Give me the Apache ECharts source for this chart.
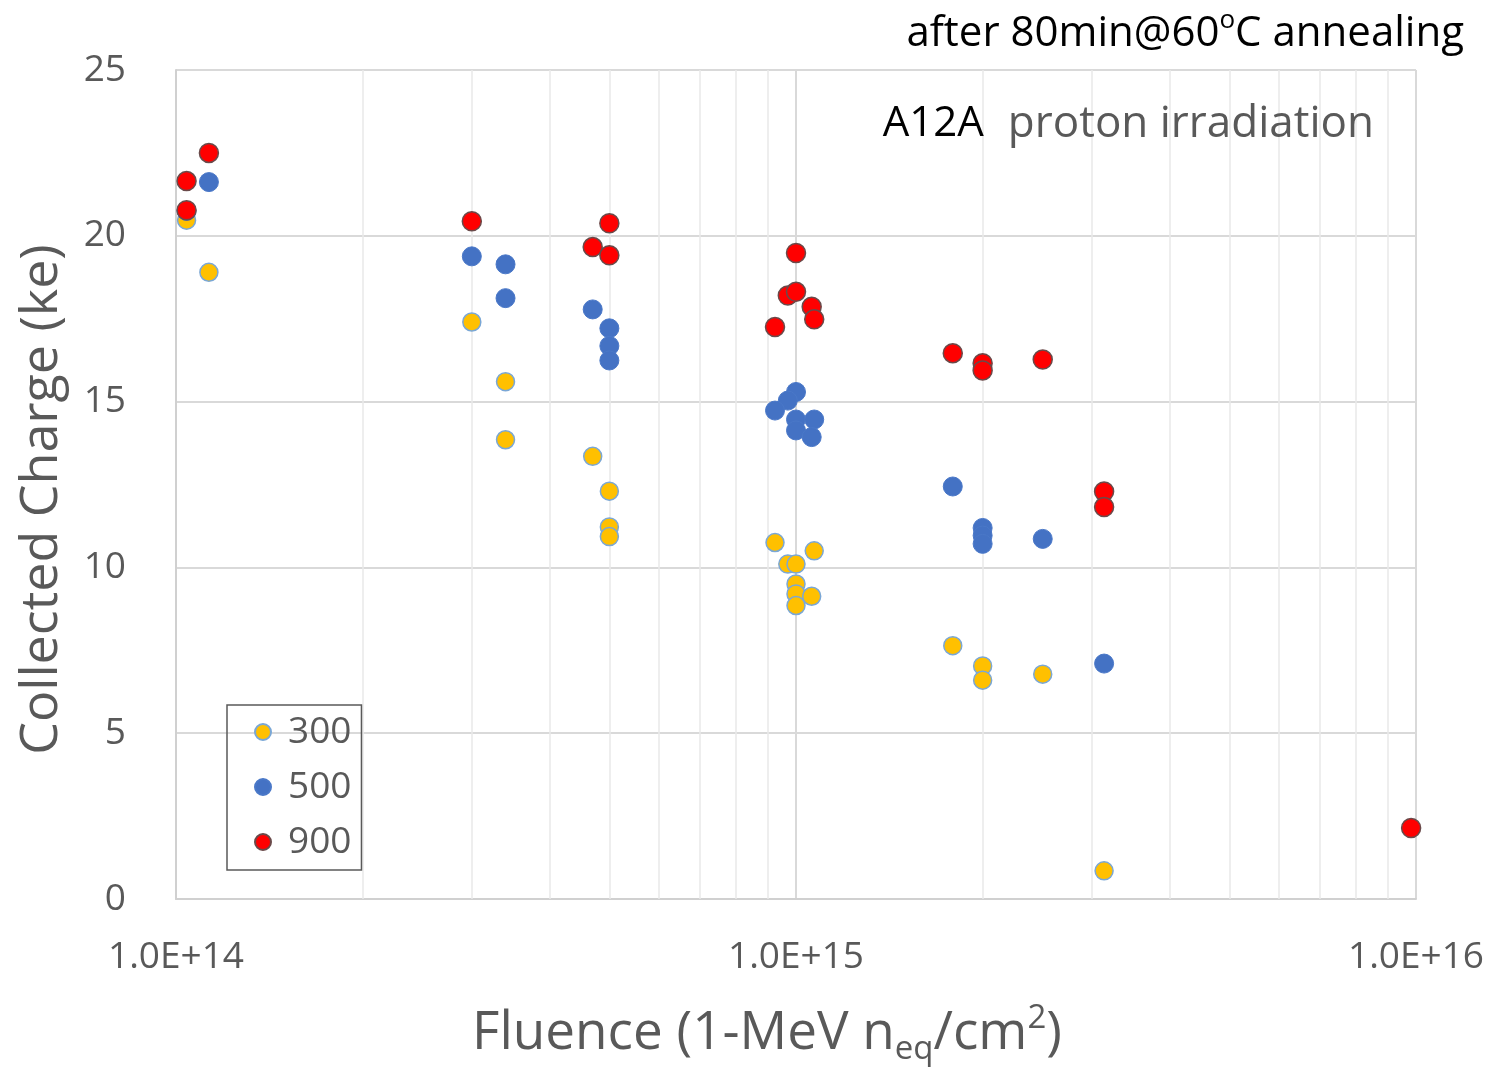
<!DOCTYPE html>
<html>
<head>
<meta charset="utf-8">
<title>Collected charge vs fluence</title>
<script src="https://cdn.jsdelivr.net/npm/echarts@6/dist/echarts.min.js"></script>
<style>
  html, body { margin: 0; padding: 0; background: #ffffff; }
  #chart { width: 1491px; height: 1071px; }
</style>
</head>
<body>
<div id="chart"></div>
<script>
// Fluence (1-MeV neq/cm2) and collected charge (ke) for each bias voltage
const series300 = [
  [1.04e14, 20.47], [1.13e14, 18.9], [3.0e14, 17.4], [3.4e14, 15.6], [3.4e14, 13.85],
  [4.7e14, 13.35], [5.0e14, 12.3], [5.0e14, 11.22], [5.0e14, 10.93], [9.25e14, 10.75],
  [1.07e15, 10.5], [9.7e14, 10.1], [1.0e15, 10.1], [1.0e15, 9.5], [1.0e15, 9.2],
  [1.06e15, 9.13], [1.0e15, 8.85], [1.79e15, 7.64], [2.0e15, 7.03], [2.0e15, 6.6],
  [2.5e15, 6.78], [3.14e15, 0.85]
];
const series500 = [
  [1.13e14, 21.62], [1.04e14, 20.75], [3.0e14, 19.38], [3.4e14, 19.14], [3.4e14, 18.12],
  [4.7e14, 17.78], [5.0e14, 17.21], [5.0e14, 16.68], [5.0e14, 16.24], [1.0e15, 15.29],
  [9.7e14, 15.03], [9.25e14, 14.73], [1.0e15, 14.46], [1.07e15, 14.46], [1.0e15, 14.13],
  [1.06e15, 13.93], [1.79e15, 12.44], [2.0e15, 11.19], [2.0e15, 10.96], [2.0e15, 10.71],
  [2.5e15, 10.86], [3.14e15, 7.1]
];
const series900 = [
  [1.13e14, 22.5], [1.04e14, 21.65], [1.04e14, 20.77], [3.0e14, 20.44], [4.7e14, 19.66],
  [5.0e14, 20.38], [5.0e14, 19.41], [1.0e15, 19.48], [9.7e14, 18.2], [1.0e15, 18.31],
  [1.06e15, 17.86], [1.07e15, 17.48], [9.25e14, 17.25], [1.79e15, 16.46], [2.0e15, 16.16],
  [2.0e15, 15.94], [2.5e15, 16.27], [3.14e15, 12.29], [3.14e15, 11.82], [9.82e15, 2.14]
];
const seriesNames = ['300', '500', '900'];
// Intermediate decade lines (2..9 x 10^n)
const minorGridFluence = [
  2e14, 3e14, 4e14, 5e14, 6e14, 7e14, 8e14, 9e14,
  2e15, 3e15, 4e15, 5e15, 6e15, 7e15, 8e15, 9e15
];
const yTicks = { min: 0, max: 25, interval: 5 };

const FONT = '"Open Sans", "Noto Sans", sans-serif';
const GREY = '#595959';

const chart = echarts.init(document.getElementById('chart'), null, { renderer: 'canvas' });

const option = {
  backgroundColor: '#ffffff',
  animation: false,
  textStyle: { fontFamily: FONT },
  title: [
    {
      text: '{t|after 80min@60}{sup|o}{t|C annealing}',
      right: 22,
      top: 3,
      textStyle: {
        fontWeight: 'normal',
        rich: {
          t: { fontFamily: FONT, fontSize: 42, fontWeight: 'normal', color: '#000000', lineHeight: 52 },
          sup: { fontFamily: FONT, fontSize: 26, fontWeight: 'normal', color: '#000000', lineHeight: 30, verticalAlign: 'top' }
        }
      }
    },
    {
      text: '{a|A12A}{b|proton irradiation}',
      right: 112,
      top: 93,
      textStyle: {
        fontWeight: 'normal',
        rich: {
          a: { fontFamily: FONT, fontSize: 42, fontWeight: 'normal', color: '#000000', lineHeight: 52 },
          b: { fontFamily: FONT, fontSize: 44, fontWeight: 'normal', color: GREY, lineHeight: 52, padding: [0, 0, 0, 24] }
        }
      }
    }
  ],
  legend: {
    data: seriesNames,
    orient: 'vertical',
    left: 227,
    top: 705,
    icon: 'circle',
    itemWidth: 16,
    itemHeight: 16,
    itemGap: 15,
    padding: [7, 10, 8, 27],
    borderColor: GREY,
    borderWidth: 1.5,
    borderRadius: 0,
    textStyle: {
      fontFamily: FONT,
      fontSize: 37,
      color: GREY,
      lineHeight: 40,
      padding: [0, 0, 0, 12]
    }
  },
  grid: {
    left: 176,
    right: 75,
    top: 70,
    bottom: 170,
    containLabel: false
  },
  xAxis: {
    type: 'log',
    logBase: 10,
    min: 1e14,
    max: 1e16,
    name: '{m|Fluence (1-MeV n}{sub|eq}{m|/cm}{sup|2}{m|)}',
    nameLocation: 'middle',
    nameGap: 103,
    nameTextStyle: {
      padding: [0, 58, 0, 0],
      rich: {
        m: { fontFamily: FONT, fontSize: 53, color: GREY, lineHeight: 64 },
        sub: { fontFamily: FONT, fontSize: 33, color: GREY, lineHeight: 32, verticalAlign: 'bottom' },
        sup: { fontFamily: FONT, fontSize: 33, color: GREY, lineHeight: 32, verticalAlign: 'top' }
      }
    },
    axisLine: { show: true, lineStyle: { color: '#d0d0d0', width: 2 } },
    axisTick: { show: false },
    axisLabel: {
      margin: 40,
      fontFamily: FONT,
      fontSize: 37,
      color: GREY,
      formatter: function (v) {
        return '1.0E+' + Math.round(Math.log10(v));
      }
    },
    splitLine: { show: true, lineStyle: { color: '#d9d9d9', width: 2 } },
    minorTick: { show: false },
    minorSplitLine: { show: false }
  },
  yAxis: {
    type: 'value',
    min: yTicks.min,
    max: yTicks.max,
    interval: yTicks.interval,
    name: 'Collected Charge (ke)',
    nameLocation: 'middle',
    nameRotate: 90,
    nameGap: 108,
    nameTextStyle: {
      fontFamily: FONT,
      fontSize: 52,
      color: GREY,
      padding: [0, 30, 0, 0]
    },
    axisLine: { show: true, lineStyle: { color: '#d0d0d0', width: 2 } },
    axisTick: { show: false },
    axisLabel: {
      margin: 50,
      fontFamily: FONT,
      fontSize: 37,
      color: GREY
    },
    splitLine: { show: true, lineStyle: { color: '#d9d9d9', width: 2 } }
  },
  series: [
    {
      name: '300',
      type: 'scatter',
      data: series300,
      symbol: 'circle',
      symbolSize: 18,
      itemStyle: { color: '#FFC000', borderColor: '#7aa7d6', borderWidth: 1.5, opacity: 1 },
      z: 3,
      markLine: {
        silent: true,
        symbol: 'none',
        label: { show: false },
        lineStyle: { color: '#e8e8e8', width: 1.5, type: 'solid' },
        data: minorGridFluence.map(function (f) { return { xAxis: f }; }),
        z: 1
      }
    },
    {
      name: '500',
      type: 'scatter',
      data: series500,
      symbol: 'circle',
      symbolSize: 19,
      itemStyle: { color: '#4472C4', borderColor: '#4a78c8', borderWidth: 1, opacity: 1 },
      z: 4
    },
    {
      name: '900',
      type: 'scatter',
      data: series900,
      symbol: 'circle',
      symbolSize: 19,
      itemStyle: { color: '#FF0000', borderColor: '#6a4a4a', borderWidth: 1.5, opacity: 1 },
      z: 5
    }
  ]
};

chart.setOption(option);
</script>
</body>
</html>
